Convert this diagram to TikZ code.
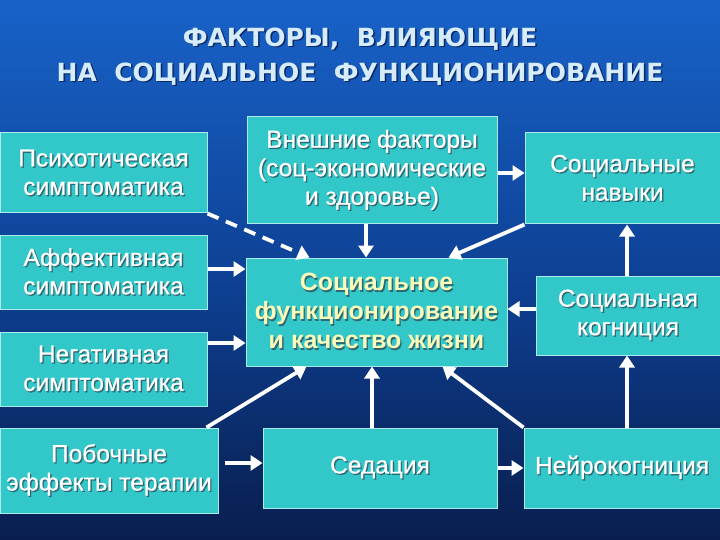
\documentclass[tikz,border=0pt]{standalone}
\usepackage{fontspec}
\setmainfont{Liberation Sans}
\newfontfamily\boxfont[FakeBold=0.7]{Liberation Sans}
\newfontfamily\titlefont{DejaVu Sans}
\usetikzlibrary{arrows.meta,calc}
\definecolor{boxfill}{RGB}{50,200,202}
\definecolor{boxline}{RGB}{170,235,235}
\definecolor{titlec}{RGB}{215,236,250}
\definecolor{centc}{RGB}{250,250,185}
\definecolor{shc}{RGB}{45,105,115}
\definecolor{tshc}{RGB}{10,40,100}
\definecolor{bgtop}{RGB}{24,98,200}
\definecolor{bgmid}{RGB}{14,66,150}
\definecolor{bgbot}{RGB}{9,30,78}
\newcommand\shd[1]{\leavevmode\rlap{\hspace{1.3pt}\raisebox{-1.3pt}{\color{shc}#1}}#1}
\newcommand\tshd[1]{\leavevmode\rlap{\hspace{1.5pt}\raisebox{-1.5pt}{\color{tshc}#1}}#1}
\begin{document}
\begin{tikzpicture}[x=1pt,y=-1pt,
  box/.style={draw=boxline,line width=1pt,fill=boxfill,inner sep=0pt,align=center,
    text=white,font=\boxfont\fontsize{24.5}{28.5}\selectfont},
  arr/.style={draw=white,line width=3.8pt,-{Triangle[width=15pt,length=12pt]}},
  dsh/.style={dash pattern=on 12pt off 8pt}]
\shade[top color=bgtop,bottom color=bgbot,middle color=bgmid] (0,0) rectangle (720,540);
\useasboundingbox (0,0) rectangle (720,540);

\node[text=titlec,font=\titlefont\bfseries\fontsize{25}{35}\selectfont,align=center] (title) at (360,57)
  {\tshd{ФАКТОРЫ,\ \ ВЛИЯЮЩИЕ}\\\tshd{НА\ \ СОЦИАЛЬНОЕ\ \ ФУНКЦИОНИРОВАНИЕ}};

\node[box,minimum width=207pt,minimum height=80pt] (psych) at (103.5,173) {\shd{Психотическая}\\\shd{симптоматика}};
\node[box,minimum width=207pt,minimum height=74pt] (aff) at (103.5,272) {\shd{Аффективная}\\\shd{симптоматика}};
\node[box,minimum width=207pt,minimum height=74pt] (neg) at (103.5,369) {\shd{Негативная}\\\shd{симптоматика}};
\node[box,minimum width=218pt,minimum height=85pt] (side) at (109,470.5) {\shd{Побочные}\\\shd{эффекты терапии}};
\node[box,minimum width=250pt,minimum height=107pt] (ext) at (372,170.5) {\shd{Внешние факторы}\\\shd{(соц-экономические}\\\shd{и здоровье)}};
\node[box,minimum width=261pt,minimum height=108pt,text=centc,font=\bfseries\fontsize{25}{29}\selectfont] (central) at (376.5,312)
  {\shd{Социальное}\\\shd{функционирование}\\\shd{и качество жизни}};
\node[box,minimum width=234pt,minimum height=80pt] (sed) at (380,468) {\shd{Седация}};
\node[box,minimum width=195pt,minimum height=91pt] (skills) at (622.5,178.5) {\shd{Социальные}\\\shd{навыки}};
\node[box,minimum width=184pt,minimum height=79pt] (socog) at (628,315.5) {\shd{Социальная}\\\shd{когниция}};
\node[box,minimum width=196pt,minimum height=80pt] (neuro) at (622,468) {\shd{Нейрокогниция}};

\draw[arr,dsh] (psych.south east) -- ([xshift=64pt]central.north west);
\draw[arr] ([yshift=3pt]aff.east) -- ([yshift=3pt]aff.east -| central.west);
\draw[arr] ([yshift=26pt]neg.east) -- ([yshift=26pt]neg.east -| central.west);
\draw[arr] ([xshift=-6pt]ext.south) -- ([xshift=-6pt]ext.south |- central.north);
\draw[arr] ([yshift=-2.5pt]ext.east) -- ([yshift=-2.5pt]ext.east -| skills.west);
\draw[arr] (skills.south west) -- ([xshift=-59pt]central.north east);
\draw[arr] ([yshift=6.5pt]socog.west) -- ([yshift=6.5pt]socog.west -| central.east);
\draw[arr] ([xshift=-1pt]socog.north) -- ([xshift=-1pt]socog.north |- skills.south);
\draw[arr] ([xshift=5pt]neuro.north) -- ([xshift=5pt]neuro.north |- socog.south);
\draw[arr] ([xshift=-12pt]side.north east) -- ([xshift=61pt]central.south west);
\draw[arr] ([xshift=-8pt]sed.north) -- ([xshift=-8pt]sed.north |- central.south);
\draw[arr] (neuro.north west) -- ([xshift=-65pt]central.south east);
\draw[arr] ([xshift=6pt,yshift=7.5pt]side.east) -- ([yshift=7.5pt]side.east -| sed.west);
\draw[arr] (sed.east) -- (neuro.west);
\end{tikzpicture}
\end{document}
